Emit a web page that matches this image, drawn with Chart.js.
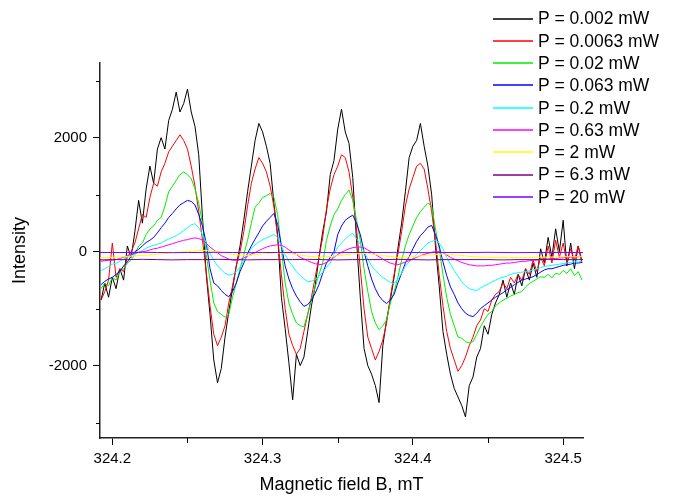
<!DOCTYPE html>
<html>
<head>
<meta charset="utf-8">
<title>EPR spectra vs microwave power</title>
<script src="https://cdn.jsdelivr.net/npm/chart.js@4.4.1/dist/chart.umd.min.js"></script>
<style>
  html, body { margin: 0; padding: 0; background: #fff; }
  canvas { display: block; }
</style>
</head>
<body>
<canvas id="chart" width="675" height="497"></canvas>
<script>
// magnetic field, mT (fine grid for the noisy traces, coarse for the flat ones)
const fieldFine = [
  324.1925, 324.195, 324.1975, 324.2, 324.2025, 324.205, 324.2075, 324.21,
  324.2125, 324.215, 324.2175, 324.22, 324.2225, 324.225, 324.2275, 324.23,
  324.2325, 324.235, 324.2375, 324.24, 324.2425, 324.245, 324.2475, 324.25,
  324.2525, 324.255, 324.2575, 324.26, 324.2625, 324.265, 324.2675, 324.27,
  324.2725, 324.275, 324.2775, 324.28, 324.2825, 324.285, 324.2875, 324.29,
  324.2925, 324.295, 324.2975, 324.3, 324.3025, 324.305, 324.3075, 324.31,
  324.3125, 324.315, 324.3175, 324.32, 324.3225, 324.325, 324.3275, 324.33,
  324.3325, 324.335, 324.3375, 324.34, 324.3425, 324.345, 324.3475, 324.35,
  324.3525, 324.355, 324.3575, 324.36, 324.3625, 324.365, 324.3675, 324.37,
  324.3725, 324.375, 324.3775, 324.38, 324.3825, 324.385, 324.3875, 324.39,
  324.3925, 324.395, 324.3975, 324.4, 324.4025, 324.405, 324.4075, 324.41,
  324.4125, 324.415, 324.4175, 324.42, 324.4225, 324.425, 324.4275, 324.43,
  324.4325, 324.435, 324.4375, 324.44, 324.4425, 324.445, 324.4475, 324.45,
  324.4525, 324.455, 324.4575, 324.46, 324.4625, 324.465, 324.4675, 324.47,
  324.4725, 324.475, 324.4775, 324.48, 324.4825, 324.485, 324.4875, 324.49,
  324.4925, 324.495, 324.4975, 324.5, 324.5025, 324.505, 324.5075, 324.51,
  324.5125
];
const fieldCoarse = [
  324.19, 324.20, 324.21, 324.22, 324.23, 324.24, 324.25, 324.26, 324.27,
  324.28, 324.29, 324.30, 324.31, 324.32, 324.33, 324.34, 324.35, 324.36,
  324.37, 324.38, 324.39, 324.40, 324.41, 324.42, 324.43, 324.44, 324.45,
  324.46, 324.47, 324.48, 324.49, 324.50, 324.51, 324.52
];

// intensity for each microwave power
const p0002 = [
  -850, -550, -800, -450, -650, -300, -500, 100,
  -100, 350, 900, 500, 1100, 1500, 1200, 1800,
  2000, 1800, 2300, 2500, 2800, 2450, 2600, 2850,
  2450, 2200, 1700, 600, -400, -1100, -1900, -2300,
  -2050, -1500, -1050, -650, -250, 100, 550, 1050,
  1500, 1950, 2250, 2100, 1850, 1550, 850, 300,
  -800, -1350, -1950, -2600, -1800, -2000, -1850, -1400,
  -950, -600, -100, 350, 700, 1350, 1600, 2150,
  2500, 2100, 1900, 1300, 200, -800, -1700, -2000,
  -2150, -2350, -2650, -1650, -1200, -850, -450, 50,
  500, 1050, 1650, 1850, 1950, 2250, 1850, 1500,
  1000, 100, -600, -1400, -1800, -2150, -2400, -2550,
  -2700, -2900, -2350, -2200, -1850, -1700, -1300, -1450,
  -1100, -900, -750, -500, -800, -550, -750, -400,
  -600, -300, -500, -200, -450, 50, -200, 250,
  -100, 400, 0, 550, -250, 150, -300, 100,
  -200
];
const p0063 = [
  -850, -700, -500, 150, -450, -300, -350, -100,
  0, 150, 400, 650, 600, 950, 1200, 1150,
  1400, 1550, 1750, 1850, 1950, 2050, 1950, 1800,
  1500, 1150, 700, 200, -350, -950, -1450, -1650,
  -1500, -1300, -900, -600, -250, 0, 350, 800,
  1200, 1450, 1650, 1550, 1400, 1150, 800, 250,
  -400, -1000, -1450, -1650, -1800, -1700, -1400, -1100,
  -800, -450, -100, 250, 750, 1100, 1350, 1500,
  1700, 1650, 1400, 950, 400, -300, -1000, -1500,
  -1700, -1900, -1750, -1550, -1250, -800, -400, -50,
  350, 800, 1100, 1300, 1500, 1550, 1450, 1100,
  700, 200, -400, -950, -1400, -1700, -1900, -2100,
  -2000, -1850, -1650, -1500, -1300, -1200, -1000, -1050,
  -850, -750, -700, -550, -650, -450, -550, -400,
  -500, -300, -400, -150, -350, -100, -250, 100,
  -200, 200, -100, 150, -200, 50, -150, 100,
  -150
];
const p002 = [
  -650, -550, -600, -450, -500, -350, -300, -200,
  -150, -50, 100, 150, 300, 400, 450, 550,
  600, 800, 1050, 1150, 1250, 1350, 1400, 1350,
  1280, 1100, 850, 500, -50, -500, -900, -1050,
  -1100, -1150, -1100, -800, -550, -300, -50, 200,
  500, 780, 850, 950, 980, 1020, 950, 650,
  50, -550, -900, -1100, -1250, -1300, -1320, -1100,
  -850, -620, -400, -200, 200, 450, 650, 750,
  900, 1000, 1080, 900, 550, 200, -300, -700,
  -1050, -1250, -1370, -1300, -1200, -900, -700, -450,
  -150, 100, 300, 450, 600, 700, 780, 850,
  800, 400, 50, -400, -800, -1100, -1300, -1500,
  -1520, -1580, -1600, -1580, -1450, -1320, -1200, -1100,
  -1050, -950, -900, -850, -820, -780, -750, -720,
  -700, -620, -560, -520, -480, -440, -450, -400,
  -460, -380, -400, -330, -380, -300, -420, -350,
  -500
];
const p0063b = [
  -580, -520, -480, -450, -400, -350, -250, -180,
  -80, 0, 40, 100, 160, 200, 250, 330,
  420, 500, 600, 670, 750, 820, 860, 900,
  880, 820, 650, 450, 150, -300, -550, -600,
  -680, -750, -790, -700, -550, -350, -200, -30,
  100, 220, 330, 450, 530, 600, 670, 480,
  100, -250, -480, -650, -780, -880, -960, -930,
  -850, -730, -580, -380, -200, -100, 0, 300,
  450, 550, 600, 640, 500, 300, 0, -250,
  -480, -650, -780, -860, -910, -850, -750, -550,
  -380, -200, -90, 50, 180, 280, 350, 430,
  460, 300, 100, -180, -420, -620, -750, -900,
  -1000, -1080, -1120, -1140, -1080, -1000, -950, -900,
  -850, -800, -760, -720, -670, -630, -580, -540,
  -500, -480, -460, -440, -400, -360, -320, -300,
  -300, -280, -260, -240, -230, -220, -200, -200,
  -190
];
const p02 = [
  -330, -300, -260, -220, -200, -170, -130, -100,
  -70, -40, -20, 20, 60, 90, 110, 130,
  150, 190, 220, 250, 280, 320, 370, 420,
  470, 490, 420, 300, 150, -30, -150, -250,
  -320, -380, -410, -400, -350, -270, -170, -50,
  60, 120, 170, 210, 240, 270, 300, 250,
  100, -50, -170, -260, -350, -420, -480, -530,
  -520, -490, -430, -360, -270, -200, -50, 80,
  150, 220, 280, 320, 230, 130, 0, -130,
  -250, -330, -400, -450, -500, -540, -560, -480,
  -380, -250, -180, -120, -50, 20, 80, 150,
  180, 200, 150, 50, -100, -220, -330, -430,
  -530, -600, -650, -670, -680, -640, -600, -570,
  -530, -500, -470, -450, -430, -400, -380, -370,
  -360, -350, -340, -320, -300, -280, -260, -250,
  -240, -230, -220, -210, -200, -190, -180, -180,
  -170
];
const p063 = [
  -170, -160, -150, -150, -140, -120, -100, -70,
  -50, -30, -10, 0, 10, 30, 50, 60,
  80, 100, 120, 140, 160, 180, 200, 210,
  230, 240, 230, 200, 150, 80, 30, -20,
  -70, -100, -130, -150, -150, -140, -110, -80,
  -40, -20, 20, 50, 80, 100, 110, 120,
  110, 80, 30, -10, -50, -100, -130, -160,
  -190, -210, -230, -220, -190, -150, -100, -50,
  -10, 20, 50, 70, 80, 80, 70, 30,
  -10, -50, -90, -130, -170, -200, -220, -230,
  -210, -180, -160, -130, -100, -70, -50, -30,
  -10, 0, 0, -20, -60, -100, -130, -160,
  -190, -210, -230, -240, -250, -250, -250, -240,
  -240, -230, -220, -210, -200, -200, -190, -180,
  -170, -170, -160, -150, -150, -140, -130, -130,
  -120, -120, -110, -110, -100, -100, -100, -90,
  -90
];
const p2 = [
  -110, -100, -85, -65, -45, -20, 0, 25, 0,
  -50, -70, -40, -20, -40, -80, -100, -70, -40,
  -30, -70, -100, -90, -60, -40, -60, -90, -100,
  -100, -105, -100, -95, -90, -90, -85
];
const p63 = [
  -145, -140, -140, -135, -140, -145, -140, -140, -135,
  -140, -145, -140, -140, -140, -135, -140, -145, -140,
  -140, -140, -135, -140, -145, -140, -140, -140, -140,
  -145, -140, -140, -135, -140, -140, -140
];
const p20 = [
  -15, -15, -15, -12, -15, -18, -15, -15, -12,
  -15, -18, -15, -15, -15, -12, -15, -18, -15,
  -15, -15, -12, -15, -18, -15, -15, -15, -12,
  -15, -18, -15, -15, -15, -15, -15
];

const seriesLabels = ['P = 0.002 mW', 'P = 0.0063 mW', 'P = 0.02 mW', 'P = 0.063 mW',
  'P = 0.2 mW', 'P = 0.63 mW', 'P = 2 mW', 'P = 6.3 mW', 'P = 20 mW'];
const seriesValues = [p0002, p0063, p002, p0063b, p02, p063, p2, p63, p20];
const seriesFields = [fieldFine, fieldFine, fieldFine, fieldFine, fieldFine, fieldFine,
  fieldCoarse, fieldCoarse, fieldCoarse];
const seriesColors = ['#000000', '#ff0000', '#00ee00', '#0000ff', '#00ffff', '#ff00ff',
  '#ffff00', '#800080', '#8000ff'];

const xTicks = [324.2, 324.3, 324.4, 324.5];
const yTicks = [-2000, 0, 2000];
const xMinor = [324.25, 324.35, 324.45];
const yMinor = [-3000, -1000, 1000, 3000];

const FONT = '"Liberation Sans", Arial, Helvetica, sans-serif';

const datasets = seriesLabels.map((label, i) => ({
  label: label,
  data: seriesValues[i].map((v, j) => ({x: seriesFields[i][j], y: v})),
  borderColor: seriesColors[i],
  borderWidth: 1,
  pointRadius: 0,
  tension: 0,
  fill: false,
  order: seriesLabels.length - i // later series drawn on top
}));

// short ticks between the labelled ones
const minorTicks = {
  id: 'minorTicks',
  afterDraw(chart) {
    const {ctx, chartArea, scales} = chart;
    ctx.save();
    ctx.strokeStyle = '#000';
    ctx.lineWidth = 1;
    ctx.beginPath();
    xMinor.forEach(v => {
      const px = Math.round(scales.x.getPixelForValue(v)) + 0.5;
      ctx.moveTo(px, chartArea.bottom);
      ctx.lineTo(px, chartArea.bottom + 5);
    });
    yMinor.forEach(v => {
      const py = Math.round(scales.y.getPixelForValue(v)) + 0.5;
      ctx.moveTo(chartArea.left, py);
      ctx.lineTo(chartArea.left - 4, py);
    });
    ctx.stroke();
    ctx.restore();
  }
};

// legend in the top right corner, overlapping the plot like the original
const sideLegend = {
  id: 'sideLegend',
  afterDraw(chart) {
    const ctx = chart.ctx;
    ctx.save();
    ctx.font = '17.5px ' + FONT;
    ctx.textBaseline = 'middle';
    chart.data.datasets.forEach((ds, i) => {
      const y = 18.5 + i * 22.3;
      ctx.strokeStyle = seriesColors[i];
      ctx.lineWidth = 1.5;
      ctx.beginPath();
      ctx.moveTo(493, Math.round(y));
      ctx.lineTo(533, Math.round(y));
      ctx.stroke();
      ctx.fillStyle = '#000';
      ctx.fillText(ds.label, 538, y + 1);
    });
    ctx.restore();
  }
};

const ctx = document.getElementById('chart').getContext('2d');
new Chart(ctx, {
  type: 'line',
  data: { datasets: datasets },
  plugins: [minorTicks, sideLegend],
  options: {
    responsive: false,
    animation: false,
    layout: { padding: { left: 0, right: 92, top: 63, bottom: 0 } },
    plugins: {
      legend: { display: false },
      tooltip: { enabled: false }
    },
    scales: {
      x: {
        type: 'linear',
        min: 324.1918,
        max: 324.5132,
        afterFit: scale => { scale.height = 59; },
        afterBuildTicks: scale => { scale.ticks = xTicks.map(v => ({value: v})); },
        border: { display: true, color: '#222', width: 1.5 },
        grid: { drawOnChartArea: false, drawTicks: true, tickLength: 7, color: '#000' },
        ticks: {
          maxRotation: 0,
          autoSkip: false,
          padding: 5,
          color: '#000',
          font: { family: FONT, size: 15 },
          callback: v => Number(v).toFixed(1)
        },
        title: {
          display: true,
          text: 'Magnetic field B, mT',
          color: '#000',
          font: { family: FONT, size: 18 },
          padding: { top: 0, bottom: 1 }
        }
      },
      y: {
        min: -3270,
        max: 3310,
        afterFit: scale => { scale.width = 100; },
        afterBuildTicks: scale => { scale.ticks = yTicks.map(v => ({value: v})); },
        border: { display: true, color: '#222', width: 1.5 },
        grid: { drawOnChartArea: false, drawTicks: true, tickLength: 7, color: '#000' },
        ticks: {
          autoSkip: false,
          padding: 6,
          color: '#000',
          font: { family: FONT, size: 15 },
          callback: v => String(v)
        },
        title: {
          display: true,
          text: 'Intensity',
          color: '#000',
          font: { family: FONT, size: 18 },
          padding: { top: 9, bottom: 0 }
        }
      }
    }
  }
});
</script>
</body>
</html>
